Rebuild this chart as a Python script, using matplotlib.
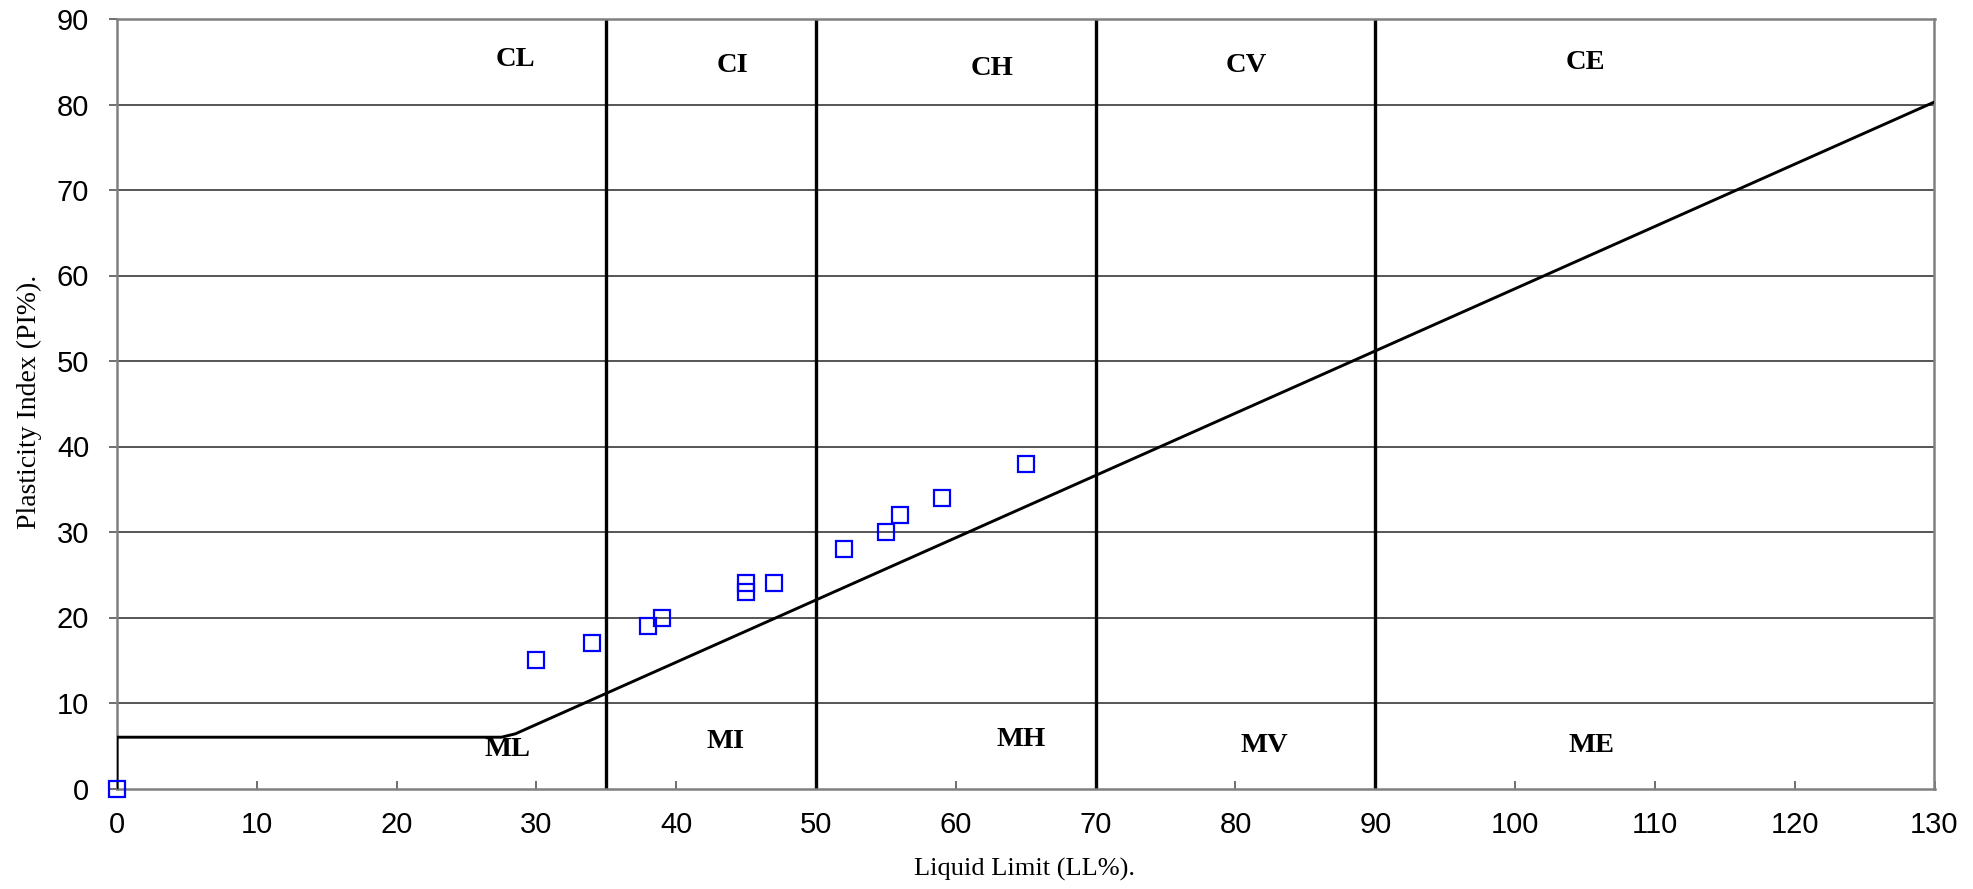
import matplotlib
matplotlib.use("Agg")
import matplotlib.pyplot as plt

# Data points (Liquid Limit, Plasticity Index)
ll_values = [0, 30, 34, 38, 39, 45, 45, 47, 52, 55, 56, 59, 65]
pi_values = [0, 15, 17, 19, 20, 24, 23, 24, 28, 30, 32, 34, 38]

# A-line with the low-plasticity boundary
aline_ll = [0, 0, 27.5, 28.5, 130]
aline_pi = [0, 6, 6, 6.4, 80.3]

# Vertical zone boundaries
zone_bounds = [35, 50, 70, 90]

# Zone labels
upper_labels = ["CL", "CI", "CH", "CV", "CE"]
upper_x = [28.5, 44.0, 62.6, 80.8, 105.0]
upper_y = [85.3, 84.6, 84.2, 84.6, 84.9]
lower_labels = ["ML", "MI", "MH", "MV", "ME"]
lower_x = [27.9, 43.5, 64.7, 82.1, 105.5]
lower_y = [4.6, 5.5, 5.7, 5.0, 5.0]

x_ticks = list(range(0, 131, 10))
y_ticks = list(range(0, 91, 10))

fig = plt.figure(figsize=(19.74, 8.89), dpi=100)
L, R, T, B = 117, 1934.5, 19, 788.5
ax = fig.add_axes([L/1974, 1 - B/889, (R - L)/1974, (B - T)/889])

ax.set_xlim(0, 130)
ax.set_ylim(0, 90)

for y in y_ticks[1:-1]:
    ax.axhline(y, color="#555555", lw=1.4, zorder=1)

for xb in zone_bounds:
    ax.axvline(xb, color="black", lw=2.4, zorder=2)

ax.plot(aline_ll, aline_pi, color="black", lw=2.1, zorder=3, solid_joinstyle="round")

ax.plot(ll_values, pi_values, linestyle="none", marker="s", markersize=11,
        markerfacecolor="none", markeredgecolor="#0000ff", markeredgewidth=1.6,
        zorder=4, clip_on=False)

for t, x, y in zip(upper_labels, upper_x, upper_y):
    ax.text(x, y, t, ha="center", va="center", fontsize=20.5, fontweight="bold",
            family="Liberation Serif", zorder=5)
for t, x, y in zip(lower_labels, lower_x, lower_y):
    ax.text(x, y, t, ha="center", va="center", fontsize=20.5, fontweight="bold",
            family="Liberation Serif", zorder=5)

ax.set_xticks(x_ticks)
ax.set_yticks(y_ticks)
ax.tick_params(axis="x", direction="in", length=6, width=1.2, color="#555555",
               labelsize=21, pad=16)
ax.tick_params(axis="y", direction="out", length=6, width=1.2, color="#555555",
               labelsize=21, pad=14)
for lab in ax.get_xticklabels() + ax.get_yticklabels():
    lab.set_family("Liberation Sans")

for s in ax.spines.values():
    s.set_color("#808080")
    s.set_linewidth(1.8)

fig.text(1024/1974, 1 - 869/889, "Liquid Limit (LL%).", ha="center", va="center",
         fontsize=19, family="Liberation Serif")
fig.text(29/1974, 1 - 402/889, "Plasticity Index (PI%).", ha="center", va="center",
         rotation=90, fontsize=20, family="Liberation Serif")

fig.savefig("out.png", dpi=100)
